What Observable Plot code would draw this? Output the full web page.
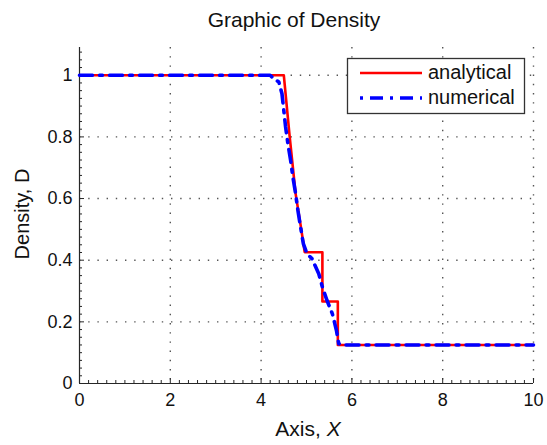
<!DOCTYPE html>
<html><head><meta charset="utf-8">
<script src="https://cdn.jsdelivr.net/npm/d3@7"></script>
<script src="https://cdn.jsdelivr.net/npm/@observablehq/plot@0.6"></script>
<style>body{margin:0;background:#fff} svg{display:block;font-family:"Liberation Sans",Arial,sans-serif}</style>
</head><body><div id="chart"></div>
<script>
const titleText = "Graphic of Density";
const xLabelText = "Axis, ";
const xLabelVar = "X";
const yLabelText = "Density, D";
const seriesNames = ["analytical", "numerical"];
const seriesColors = ["#ff0000", "#0000ff"];

const analyticalX = [0, 4.50, 4.63, 4.76, 4.88, 4.96, 5.35, 5.35, 5.69, 5.69, 10];
const analyticalD = [1, 1.00, 0.80, 0.616, 0.505, 0.426, 0.426, 0.266, 0.266, 0.125, 0.125];

const numericalX = [0, 4.20, 4.28, 4.39, 4.46, 4.50, 4.54, 4.59, 4.65, 4.70, 4.76, 4.81, 4.87, 4.93, 5.01, 5.12, 5.27, 5.35, 5.45, 5.57, 5.66, 5.71, 5.81, 10];
const numericalD = [1, 1.00, 0.989, 0.978, 0.94, 0.886, 0.832, 0.778, 0.724, 0.67, 0.616, 0.562, 0.507, 0.454, 0.421, 0.405, 0.356, 0.313, 0.27, 0.226, 0.172, 0.129, 0.125, 0.125];

const xTicks = [0, 2, 4, 6, 8, 10];
const yTicks = [0, 0.2, 0.4, 0.6, 0.8, 1];
const yTickLabels = ["0", "0.2", "0.4", "0.6", "0.8", "1"];
const xMinor = [0.2,0.4,0.6,0.8,1,1.2,1.4,1.6,1.8,2.2,2.4,2.6,2.8,3,3.2,3.4,3.6,3.8,4.2,4.4,4.6,4.8,5,5.2,5.4,5.6,5.8,6.2,6.4,6.6,6.8,7,7.2,7.4,7.6,7.8,8.2,8.4,8.6,8.8,9,9.2,9.4,9.6,9.8];
const yMinor = [0.025,0.05,0.075,0.1,0.125,0.15,0.175,0.225,0.25,0.275,0.3,0.325,0.35,0.375,0.425,0.45,0.475,0.5,0.525,0.55,0.575,0.625,0.65,0.675,0.7,0.725,0.75,0.775,0.825,0.85,0.875,0.9,0.925,0.95,0.975,1.025,1.05,1.075];

const W = 547, H = 445, mL = 79, mR = 14, mT = 47, mB = 62;
const pW = W - mL - mR, pH = H - mT - mB;

const analytical = analyticalX.map((x, i) => ({x, y: analyticalD[i]}));
const numerical = numericalX.map((x, i) => ({x, y: numericalD[i]}));
const gridStyle = {stroke: "#555", strokeWidth: 1.4, strokeDasharray: "1.4,7.8"};
const axisColor = "#262626";

const chart = Plot.plot({
  width: W, height: H,
  marginLeft: mL, marginRight: mR, marginTop: mT, marginBottom: mB,
  style: {fontFamily: '"Liberation Sans", Arial, sans-serif', background: "#fff"},
  x: {domain: [0, 10]},
  y: {domain: [0, 1.09]},
  marks: [
    Plot.ruleX(xTicks.filter(d => d > 0), gridStyle),
    Plot.ruleY(yTicks.filter(d => d > 0), gridStyle),
    Plot.ruleX(xMinor, {stroke: axisColor, strokeWidth: 1, insetTop: pH - 3}),
    Plot.ruleX(xTicks, {stroke: axisColor, strokeWidth: 1, insetTop: pH - 5}),
    Plot.ruleY(yMinor, {stroke: axisColor, strokeWidth: 1, insetRight: pW - 3}),
    Plot.ruleY(yTicks, {stroke: axisColor, strokeWidth: 1, insetRight: pW - 5}),
    Plot.ruleX([0], {stroke: axisColor, strokeWidth: 1.2}),
    Plot.ruleY([0], {stroke: axisColor, strokeWidth: 1.2}),
    Plot.axisX({ticks: xTicks, tickSize: 0, tickPadding: 10, fontSize: 18, fill: "#111", label: null}),
    Plot.axisY({ticks: yTicks, tickSize: 0, tickPadding: 7, fontSize: 18, fill: "#111", label: null,
      tickFormat: d => yTickLabels[yTicks.indexOf(d)]}),
    Plot.line(analytical, {x: "x", y: "y", stroke: seriesColors[0], strokeWidth: 2.6}),
    Plot.line(numerical, {x: "x", y: "y", stroke: seriesColors[1], strokeWidth: 3.6,
      strokeDasharray: "13,7,3,7"})
  ]
});

const svg = d3.select(chart);
const cx = mL + pW / 2;
svg.append("text").attr("x", cx - 12).attr("y", 27).attr("text-anchor", "middle")
  .attr("font-size", 21).attr("fill", "#111").text(titleText);
const xl = svg.append("text").attr("x", cx + 2).attr("y", 436).attr("text-anchor", "middle")
  .attr("font-size", 21).attr("fill", "#111");
xl.append("tspan").text(xLabelText);
xl.append("tspan").attr("font-style", "italic").text(xLabelVar);
svg.append("text").attr("transform", `translate(29,${mT + pH / 2 - 1}) rotate(-90)`)
  .attr("text-anchor", "middle").attr("font-size", 20).attr("fill", "#111").text(yLabelText);

const lg = svg.append("g");
lg.append("rect").attr("x", 347.5).attr("y", 58.5).attr("width", 177).attr("height", 55)
  .attr("fill", "#fff").attr("stroke", "#333").attr("stroke-width", 1.3);
const rows = [{y: 73, dash: null, w: 2.6}, {y: 98, dash: "3,7,13,7", w: 3.6}];
rows.forEach((r, i) => {
  const l = lg.append("line").attr("x1", 360).attr("x2", 422).attr("y1", r.y).attr("y2", r.y)
    .attr("stroke", seriesColors[i]).attr("stroke-width", r.w);
  if (r.dash) l.attr("stroke-dasharray", r.dash);
  lg.append("text").attr("x", 428).attr("y", r.y + 6).attr("text-anchor", "start")
    .attr("font-size", 20).attr("fill", "#111").text(seriesNames[i]);
});

document.getElementById("chart").append(chart);
</script>
</body></html>
